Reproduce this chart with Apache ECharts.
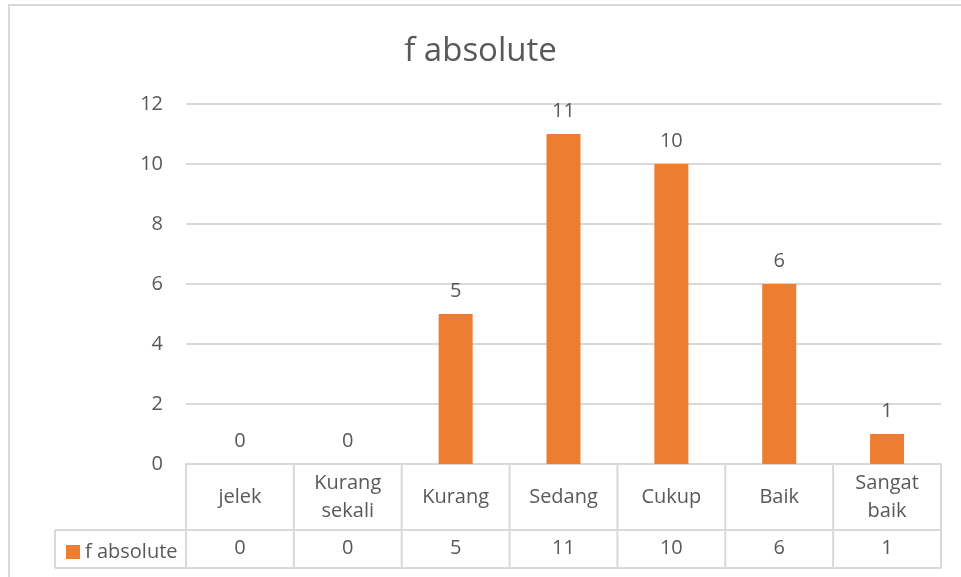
<!DOCTYPE html>
<html>
<head>
<meta charset="utf-8">
<script src="https://cdn.jsdelivr.net/npm/echarts@6/dist/echarts.min.js"></script>
<style>
  html, body { margin: 0; padding: 0; background: #fff; }
  #chart { width: 961px; height: 577px; }
</style>
</head>
<body>
<div id="chart"></div>
<script>
// data
var categories = ['jelek', 'Kurang\nsekali', 'Kurang', 'Sedang', 'Cukup', 'Baik', 'Sangat\nbaik'];
var counts = [0, 0, 5, 11, 10, 6, 1];
var seriesName = 'f absolute';

var txt = '#595959';
var lineCol = '#d9d9d9';
var font = '"Open Sans", sans-serif';

var chart = echarts.init(document.getElementById('chart'), null, { renderer: 'canvas' });

chart.setOption({
  backgroundColor: '#fff',
  animation: false,
  textStyle: { fontFamily: font, color: txt },
  title: {
    text: 'f absolute',
    left: 'center',
    top: 30,
    textStyle: { fontFamily: font, fontWeight: 'normal', fontSize: 33, color: txt }
  },
  legend: {
    show: true,
    left: 61,
    top: 537,
    icon: 'rect',
    itemWidth: 14,
    itemHeight: 14,
    itemGap: 4,
    textStyle: { fontSize: 20, color: txt, fontFamily: font, padding: [0, 0, 0, 0] }
  },
  grid: { left: 186, right: 20, top: 104, bottom: 113 },
  xAxis: [{
    type: 'category',
    data: categories,
    axisTick: { show: false },
    axisLine: { show: true, lineStyle: { color: lineCol, width: 2 } },
    axisLabel: {
      interval: 0, margin: 33, verticalAlign: 'middle',
      fontSize: 20, lineHeight: 28, color: txt, fontFamily: font
    }
  }, {
    type: 'category',
    position: 'bottom',
    data: categories,
    axisTick: { show: false },
    axisLine: { show: false },
    axisLabel: {
      interval: 0, margin: 84, verticalAlign: 'middle',
      fontSize: 20, color: txt, fontFamily: font,
      formatter: function (v, i) { return String(counts[i]); }
    }
  }],
  yAxis: {
    type: 'value',
    min: 0, max: 12, interval: 2,
    axisLine: { show: false },
    axisTick: { show: false },
    axisLabel: { margin: 23, fontSize: 20, color: txt, fontFamily: font },
    splitLine: { lineStyle: { color: lineCol, width: 2 } }
  },
  series: [{
    name: seriesName,
    type: 'bar',
    data: counts,
    barWidth: 34,
    itemStyle: { color: '#ED7D31' },
    label: { show: true, position: 'top', distance: 13, fontSize: 20, color: txt, fontFamily: font }
  }]
});

// data table lines, placed from the axis scale
function drawTable() {
  var y0 = chart.convertToPixel({ yAxisIndex: 0 }, 0);
  var yMid = y0 + 66, yBot = y0 + 104;
  var half = (chart.convertToPixel({ xAxisIndex: 0 }, 1) - chart.convertToPixel({ xAxisIndex: 0 }, 0)) / 2;
  var xs = [];
  for (var i = 0; i < categories.length; i++) {
    xs.push(chart.convertToPixel({ xAxisIndex: 0 }, i) - half);
  }
  var xEnd = chart.convertToPixel({ xAxisIndex: 0 }, categories.length - 1) + half;
  xs.push(xEnd);
  var legLeft = 55;
  var st = { stroke: lineCol, lineWidth: 2 };
  var els = [];
  xs.forEach(function (x) {
    els.push({ type: 'line', shape: { x1: x, y1: y0, x2: x, y2: yBot }, style: st, silent: true });
  });
  els.push({ type: 'line', shape: { x1: legLeft, y1: yMid, x2: xEnd, y2: yMid }, style: st, silent: true });
  els.push({ type: 'line', shape: { x1: legLeft, y1: yBot, x2: xEnd, y2: yBot }, style: st, silent: true });
  els.push({ type: 'line', shape: { x1: legLeft, y1: yMid, x2: legLeft, y2: yBot }, style: st, silent: true });
  // outer chart border
  els.push({ type: 'rect', shape: { x: 9, y: 5, width: 960, height: 580 }, style: { fill: null, stroke: lineCol, lineWidth: 2 }, silent: true });
  chart.setOption({ graphic: els });
}
drawTable();
</script>
</body>
</html>
